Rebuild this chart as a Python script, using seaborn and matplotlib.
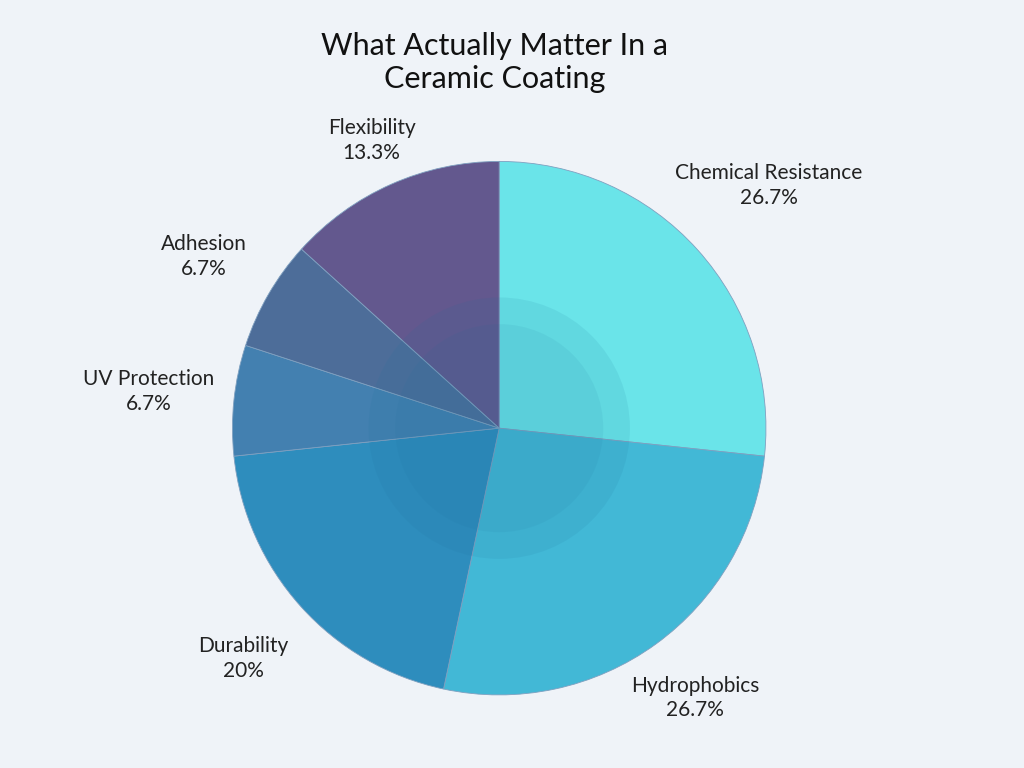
import numpy as np
import matplotlib.pyplot as plt
import seaborn as sns

categories = ['Chemical Resistance', 'Hydrophobics', 'Durability', 'UV Protection', 'Adhesion', 'Flexibility']
values = [26.7, 26.7, 20, 6.7, 6.7, 13.3]
pct_labels = ['26.7%', '26.7%', '20%', '6.7%', '6.7%', '13.3%']
colors = ['#6AE4E9', '#42B8D6', '#2E8DBD', '#4380B0', '#4D6D99', '#63588E']
label_dist = [1.36, 1.25, 1.29, 1.32, 1.28, 1.18]

sns.set_theme(style='white')
plt.rcParams['font.family'] = ['Lato', 'DejaVu Sans']
bg = '#EFF3F8'

fig = plt.figure(figsize=(10.24, 7.68), dpi=100, facecolor=bg)
ax = fig.add_axes([0.227, 0.095, 0.521, 0.695])
ax.set_facecolor(bg)
labels = [f'{c}\n{p}' for c, p in zip(categories, pct_labels)]
wedges, texts = ax.pie(values, colors=colors, startangle=90, counterclock=False,
                       labels=labels, labeldistance=1.3,
                       wedgeprops=dict(linewidth=0.6, edgecolor='#7fa0c0'),
                       textprops=dict(fontsize=15, color='#222222', linespacing=1.3))
for w, t, d in zip(wedges, texts, label_dist):
    ang = np.deg2rad((w.theta1 + w.theta2) / 2)
    t.set_position((d * np.cos(ang), d * np.sin(ang)))
    t.set_ha('center')
    t.set_va('center')
    t.set_clip_on(False)
# faint watermark circle in the centre
ax.add_patch(plt.Circle((0, 0), 0.49, color='#1b6f9a', alpha=0.10, lw=0))
ax.add_patch(plt.Circle((0, 0), 0.39, color='#1b6f9a', alpha=0.08, lw=0))
ax.set_xlim(-1, 1)
ax.set_ylim(-1, 1)
ax.set_aspect('equal')

fig.text(0.483, 0.919, 'What Actually Matter In a\nCeramic Coating', ha='center', va='center',
         fontsize=22, color='#111111', linespacing=1.2)
fig.savefig('out.png', dpi=100, facecolor=bg)
